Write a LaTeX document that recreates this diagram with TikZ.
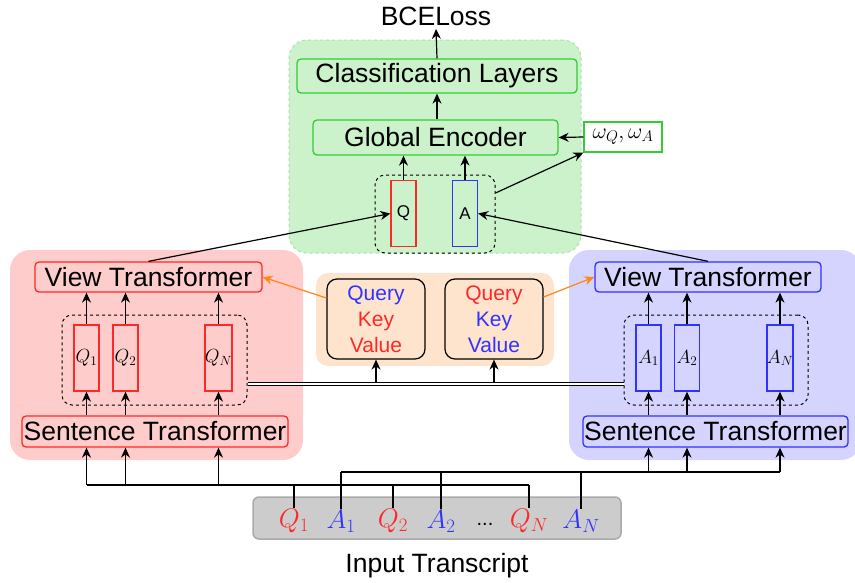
\RequirePackage{fix-cm}
\documentclass[tikz,border=0pt]{standalone}
\usepackage{fontspec}
\setmainfont{Liberation Sans}
\usetikzlibrary{arrows.meta,calc}

\definecolor{bggreen}{RGB}{204,242,204}
\definecolor{edgegreen}{RGB}{51,204,51}
\definecolor{dashgreen}{RGB}{170,225,170}
\definecolor{bgred}{RGB}{255,204,204}
\definecolor{edgered}{RGB}{255,40,40}
\definecolor{bgblue}{RGB}{212,212,255}
\definecolor{edgeblue}{RGB}{50,50,255}
\definecolor{bgorange}{RGB}{254,228,204}
\definecolor{arrorange}{RGB}{255,135,20}
\definecolor{bggray}{RGB}{204,204,204}
\definecolor{edgegray}{RGB}{170,170,170}

\tikzset{
    bigtext/.style={font=\fontsize{26.5}{30}\selectfont},
    panel/.style={draw=none, rounded corners=20pt, inner sep=0pt},
    block/.style={draw, rounded corners=4pt, line width=1.3pt, inner sep=0pt, bigtext},
    vecbox/.style={draw, line width=1.3pt, minimum width=25pt, minimum height=66pt, inner sep=0pt, font=\fontsize{19}{22}\selectfont},
    groupbox/.style={draw, dashed, rounded corners=10pt, line width=1pt, inner sep=0pt},
    kvbox/.style={draw, rounded corners=10pt, line width=1.2pt, fill=bgorange, minimum width=98pt, minimum height=80pt, align=center, font=\fontsize{21}{26}\selectfont},
    token/.style={inner sep=1pt, font=\fontsize{27}{30}\selectfont},
    arr/.style={-{Stealth[length=10pt,width=9pt]}, line width=1.2pt},
    oarr/.style={arr, draw=arrorange},
}

\begin{document}
\begin{tikzpicture}[x=1pt, y=-1pt]
        \useasboundingbox (0,0) rectangle (855,582);

        % backgrounds
        \node[panel, fill=bggreen, draw=dashgreen, dashed, line width=1pt, rounded corners=18pt, minimum width=292pt, minimum height=213pt] (globalpanel) at (435,146.5) {};
        \node[panel, fill=bgred, minimum width=293pt, minimum height=210pt] (qpanel) at (156.5,355) {};
        \node[panel, fill=bgblue, minimum width=292pt, minimum height=210pt] (apanel) at (715,355) {};
        \node[panel, fill=bgorange, rounded corners=12pt, minimum width=238pt, minimum height=93pt] (kvpanel) at (435,319.5) {};

        % global part
        \node[bigtext] (bce) at (436,16) {BCELoss};
        \node[block, draw=edgegreen, fill=bggreen, minimum width=280pt, minimum height=34pt] (cls) at (437,76) {Classification Layers};
        \node[block, draw=edgegreen, fill=bggreen, minimum width=245pt, minimum height=35pt] (ge) at (435.5,137.5) {Global Encoder};
        \node[groupbox, minimum width=120pt, minimum height=78pt] (qagroup) at (435,214) {};
        \node[vecbox, draw=edgered, font=\fontsize{17}{20}\selectfont] (qvec) at (403.5,213.5) {Q};
        \node[vecbox, draw=edgeblue, font=\fontsize{17}{20}\selectfont] (avec) at (465,213.5) {A};
        \node[draw=edgegreen, fill=white, line width=1.3pt, minimum width=78pt, minimum height=30pt, inner sep=0pt, font=\fontsize{22}{24}\selectfont] (omega) at (623,137) {$\omega_Q,\omega_A$};

        % question side
        \node[block, draw=edgered, fill=bgred, minimum width=227pt, minimum height=30pt] (vtq) at (148.5,277) {View Transformer};
        \node[groupbox, minimum width=185pt, minimum height=90pt] (qgroup) at (154.5,360) {};
        \node[vecbox, draw=edgered] (q1) at (86.5,358) {$Q_1$};
        \node[vecbox, draw=edgered] (q2) at (125.5,358) {$Q_2$};
        \node[vecbox, draw=edgered] (qn) at (218.5,358) {$Q_N$};
        \node[block, draw=edgered, fill=bgred, minimum width=266pt, minimum height=31pt] (stq) at (155,431.5) {Sentence Transformer};

        % answer side
        \node[block, draw=edgeblue, fill=bgblue, minimum width=226pt, minimum height=30pt] (vta) at (708,277) {View Transformer};
        \node[groupbox, minimum width=184pt, minimum height=90pt] (agroup) at (716,360) {};
        \node[vecbox, draw=edgeblue] (a1) at (648.5,358) {$A_1$};
        \node[vecbox, draw=edgeblue] (a2) at (687,358) {$A_2$};
        \node[vecbox, draw=edgeblue] (an) at (780,358) {$A_N$};
        \node[block, draw=edgeblue, fill=bgblue, minimum width=265pt, minimum height=31pt] (sta) at (715.5,431.5) {Sentence Transformer};

        % query key value
        \node[kvbox] (kvq) at (376,319) {\textcolor{edgeblue}{Query}\\\textcolor{edgered}{Key}\\\textcolor{edgered}{Value}};
        \node[kvbox] (kva) at (494,319) {\textcolor{edgered}{Query}\\\textcolor{edgeblue}{Key}\\\textcolor{edgeblue}{Value}};

        % input
        \node[draw=edgegray, fill=bggray, rounded corners=6pt, line width=1.5pt, minimum width=368pt, minimum height=42pt] (input) at (437,518) {};
        \node[token, text=edgered] (tq1) at (294,521) {$Q_1$};
        \node[token, text=edgeblue] (ta1) at (341,521) {$A_1$};
        \node[token, text=edgered] (tq2) at (393,521) {$Q_2$};
        \node[token, text=edgeblue] (ta2) at (441,521) {$A_2$};
        \node[token, font=\fontsize{20}{24}\selectfont] (dots) at (485,524) {...};
        \node[token, text=edgered] (tqn) at (529,521) {$Q_N$};
        \node[token, text=edgeblue] (tan) at (581,521) {$A_N$};
        \node[bigtext] (inputlabel) at (437,566) {Input Transcript};

        \coordinate (qbus) at (0,485);
        \coordinate (abus) at (0,472);
        \coordinate (kvbus) at (0,384);

        % input to sentence transformers
        \draw[line width=1.2pt] (q1 |- qbus) -- (tqn.north |- qbus);
        \foreach \t in {tq1,tq2,tqn}
            \draw[line width=1.2pt] (\t.north) -- (\t.north |- qbus);
        \foreach \v in {q1,q2,qn}
            \draw[arr] (\v |- qbus) -- (\v |- stq.south);
        \draw[line width=1.2pt] (ta1.north |- abus) -- (an |- abus);
        \foreach \t in {ta1,ta2,tan}
            \draw[line width=1.2pt] (\t.north) -- (\t.north |- abus);
        \foreach \v in {a1,a2,an}
            \draw[arr] (\v |- abus) -- (\v |- sta.south);

        % sentence -> vectors -> view
        \foreach \v in {q1,q2,qn} {
            \draw[arr] (\v |- stq.north) -- (\v.south);
            \draw[arr] (\v.north) -- (\v |- vtq.south);
        }
        \foreach \v in {a1,a2,an} {
            \draw[arr] (\v |- sta.north) -- (\v.south);
            \draw[arr] (\v.north) -- (\v |- vta.south);
        }

        % shared link and query key value
        \draw[double, double distance=2.5pt, line width=0.9pt] (qgroup.east |- kvbus) -- (agroup.west |- kvbus);
        \draw[arr] ($(kvq.south |- kvbus)+(0,-2)$) -- (kvq.south);
        \draw[arr] ($(kva.south |- kvbus)+(0,-2)$) -- (kva.south);
        \draw[oarr] ($(kvq.west)+(0,-21)$) -- (vtq.east);
        \draw[oarr] ($(kva.east)+(0,-22)$) -- (vta.west);

        % view transformers -> global
        \draw[arr] (vtq.north) -- (qvec.west);
        \draw[arr] (vta.north) -- (avec.east);
        \draw[arr] (qvec.north) -- (qvec |- ge.south);
        \draw[arr] (avec.north) -- (avec |- ge.south);
        \draw[arr] ($(qagroup.east)+(0,-21)$) -- (omega.south west);
        \draw[arr] (omega.west) -- (ge.east);
        \draw[arr] (cls.south |- ge.north) -- (cls.south);
        \draw[arr] (cls.north) -- (bce.south);
\end{tikzpicture}
\end{document}
